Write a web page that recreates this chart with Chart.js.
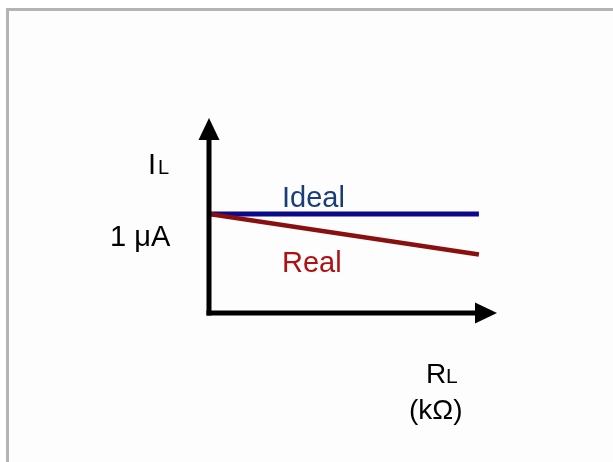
<!DOCTYPE html>
<html>
<head>
<meta charset="utf-8">
<script src="https://cdn.jsdelivr.net/npm/chart.js@4/dist/chart.umd.min.js"></script>
<style>
  html, body { margin: 0; padding: 0; background: #ffffff; }
  #wrap { position: absolute; left: 0; top: 0; width: 613px; height: 462px; }
</style>
</head>
<body>
<div id="wrap"><canvas id="c" width="613" height="462"></canvas></div>
<script>
// ---- data (load resistance R_L in arbitrary kΩ units, load current I_L in μA) ----
const rlValues   = [0, 10];
const idealCurrent = [1, 1];
const realCurrent  = [1, 0.59];
const seriesNames  = ['Ideal', 'Real'];
const yTickLabel   = '1 μA';
const yTickValue   = 1;
const xAxisMax = 10.67;   // end of x arrow
const yAxisMax = 1.97;    // end of y arrow

function toPoints(xs, ys) { return xs.map((x, i) => ({ x: x, y: ys[i] })); }

const FONT = '"Liberation Sans", Arial, sans-serif';

const decorPlugin = {
  id: 'decor',
  beforeDraw(chart) {
    const ctx = chart.ctx;
    ctx.save();
    ctx.fillStyle = '#fdfdfd';
    ctx.fillRect(6, 8, 613, 462);
    ctx.fillStyle = '#b4b4b4';
    ctx.fillRect(6, 8, 613, 3);
    ctx.fillRect(6, 8, 3, 462);
    ctx.restore();
  },
  afterDatasetsDraw(chart) {
    const ctx = chart.ctx;
    const xs = chart.scales.x, ys = chart.scales.y;
    const x0 = xs.getPixelForValue(0), y0 = ys.getPixelForValue(0);
    const xEnd = xs.getPixelForValue(xAxisMax), yEnd = ys.getPixelForValue(yAxisMax);
    ctx.save();
    ctx.strokeStyle = '#000';
    ctx.fillStyle = '#000';
    ctx.lineWidth = 5;
    ctx.lineCap = 'square';
    ctx.beginPath();
    ctx.moveTo(x0, y0);
    ctx.lineTo(x0, yEnd + 18);
    ctx.stroke();
    ctx.beginPath();
    ctx.moveTo(x0, y0);
    ctx.lineTo(xEnd - 18, y0);
    ctx.stroke();
    ctx.beginPath();
    ctx.moveTo(x0, yEnd);
    ctx.lineTo(x0 - 10.5, yEnd + 22);
    ctx.lineTo(x0 + 10.5, yEnd + 22);
    ctx.closePath();
    ctx.fill();
    ctx.beginPath();
    ctx.moveTo(xEnd, y0);
    ctx.lineTo(xEnd - 22, y0 - 10.5);
    ctx.lineTo(xEnd - 22, y0 + 10.5);
    ctx.closePath();
    ctx.fill();

    ctx.textBaseline = 'alphabetic';
    ctx.textAlign = 'left';
    ctx.fillStyle = '#000';
    ctx.font = '29px ' + FONT;
    ctx.fillText('I', 148, 174);
    ctx.font = '20px ' + FONT;
    ctx.fillText('L', 158, 174);
    ctx.font = '29px ' + FONT;
    ctx.fillText(yTickLabel, 110, ys.getPixelForValue(yTickValue) + 32);
    ctx.fillStyle = '#1a3d7a';
    ctx.fillText(seriesNames[0], 282, 207);
    ctx.fillStyle = '#b01010';
    ctx.fillText(seriesNames[1], 282, 272);
    ctx.fillStyle = '#000';
    ctx.font = '28px ' + FONT;
    ctx.fillText('R', 426, 383);
    ctx.font = '21px ' + FONT;
    ctx.fillText('L', 446, 383);
    ctx.font = '28px ' + FONT;
    ctx.fillText('(kΩ)', 409, 419);
    ctx.restore();
  }
};

new Chart(document.getElementById('c'), {
  type: 'line',
  data: {
    datasets: [
      {
        label: seriesNames[1],
        data: toPoints(rlValues, realCurrent),
        borderColor: '#8a1010',
        borderWidth: 4.5,
        pointRadius: 0,
        tension: 0,
        fill: false
      },
      {
        label: seriesNames[0],
        data: toPoints(rlValues, idealCurrent),
        borderColor: '#0a0a8a',
        borderWidth: 5,
        pointRadius: 0,
        tension: 0,
        fill: false
      }
    ]
  },
  options: {
    responsive: false,
    animation: false,
    devicePixelRatio: 1,
    layout: { padding: { left: 209, right: 116, top: 118, bottom: 149 } },
    plugins: { legend: { display: false }, tooltip: { enabled: false }, title: { display: false } },
    scales: {
      x: { type: 'linear', min: 0, max: xAxisMax, display: false },
      y: { type: 'linear', min: 0, max: yAxisMax, display: false }
    }
  },
  plugins: [decorPlugin]
});
</script>
</body>
</html>
